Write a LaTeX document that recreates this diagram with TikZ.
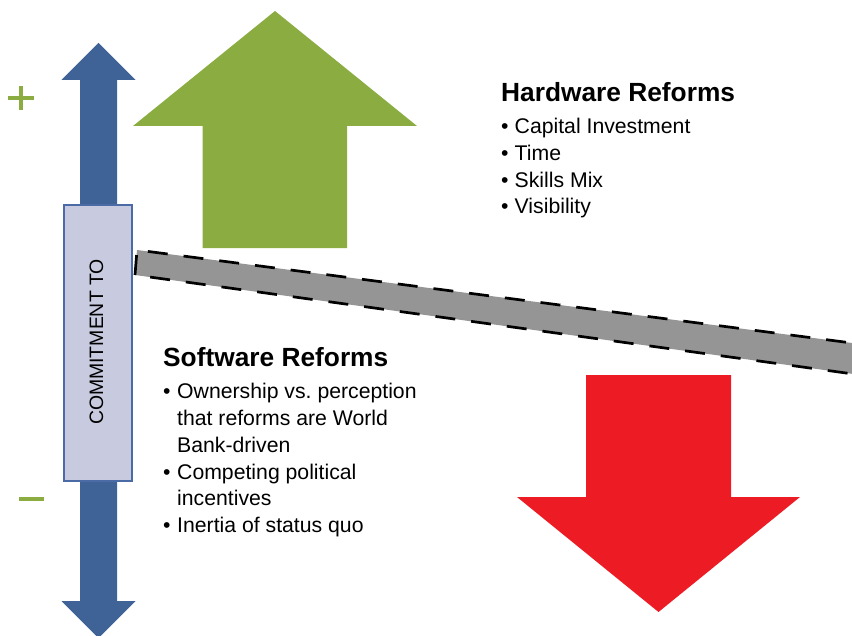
\documentclass[tikz,border=0pt]{standalone}
\usepackage{fontspec}
\setmainfont{Liberation Sans}
\definecolor{cblue}{HTML}{3F6297}
\definecolor{cgreen}{HTML}{8AAC41}
\definecolor{cred}{HTML}{ED1C24}
\definecolor{cgray}{HTML}{959595}
\definecolor{cboxfill}{HTML}{C8CADF}
\definecolor{cboxline}{HTML}{4A6BA5}
\tikzset{
  headtxt/.style={font=\fontsize{26.4}{30}\selectfont\bfseries, anchor=base west, inner sep=0pt},
  itemtxt/.style={font=\fontsize{21.3}{26}\selectfont, anchor=base west, inner sep=0pt},
  signline/.style={draw=cgreen, line width=3.5bp},
}
\begin{document}
\begin{tikzpicture}[x=1bp,y=-1bp]
\useasboundingbox (0,0) rectangle (852,636);
\begin{scope}
\clip (0,0) rectangle (852,636);
% blue double arrow
\fill[cblue] (98.5,43) -- (135.5,80) -- (117,80) -- (117,601) -- (135.5,601) -- (98.5,638)
  -- (61.5,601) -- (80,601) -- (80,80) -- (61.5,80) -- cycle;
% green up arrow
\fill[cgreen] (275,11) -- (417,126) -- (347,126) -- (347,248) -- (202.5,248) -- (202.5,126) -- (133,126) -- cycle;
% red down arrow
\fill[cred] (658.5,612) -- (800,497) -- (731,497) -- (731,375) -- (586,375) -- (586,497) -- (517,497) -- cycle;
% gray bar
\draw[fill=cgray, line width=2.7bp, dash pattern=on 20bp off 16bp, line join=miter]
  (135,275) -- (137,250) -- (875,346) -- (875,377) -- cycle;
\end{scope}
% commitment box
\node[draw=cboxline, fill=cboxfill, line width=2bp, minimum width=68bp, minimum height=275bp, inner sep=0pt] (box) at (98,343) {};
\node[rotate=90, inner sep=0pt, font=\fontsize{19.5}{22}\selectfont] (lbl) at (96.5,342) {COMMITMENT TO};
% plus and minus
\coordinate (pc) at (21,98);
\draw[signline] ([xshift=-12.5bp]pc) -- ([xshift=12.5bp]pc);
\draw[signline] ([yshift=-12bp]pc) -- ([yshift=12bp]pc);
\coordinate (mc) at (31.5,499);
\draw[draw=cgreen, line width=4bp] ([xshift=-12.5bp]mc) -- ([xshift=12.5bp]mc);
% hardware text
\node[headtxt] (hw) at (501,102) {Hardware Reforms};
\node[itemtxt] (hb1) at (501,134) {•};
\node[itemtxt] (h1) at (514.5,134) {Capital Investment};
\node[itemtxt] (hb2) at (501,160.7) {•};
\node[itemtxt] (h2) at (514.5,160.7) {Time};
\node[itemtxt] (hb3) at (501,187.4) {•};
\node[itemtxt] (h3) at (514.5,187.4) {Skills Mix};
\node[itemtxt] (hb4) at (501,214) {•};
\node[itemtxt] (h4) at (514.5,214) {Visibility};
% software text
\node[headtxt] (sw) at (163,366) {Software Reforms};
\node[itemtxt] (sb1) at (163,398) {•};
\node[itemtxt] (s1) at (177,398) {Ownership vs.\ perception};
\node[itemtxt] (s1b) at (177,425) {that reforms are World};
\node[itemtxt] (s1c) at (177,452) {Bank-driven};
\node[itemtxt] (sb2) at (163,479) {•};
\node[itemtxt] (s2) at (177,479) {Competing political};
\node[itemtxt] (s2b) at (177,505.5) {incentives};
\node[itemtxt] (sb3) at (163,532) {•};
\node[itemtxt] (s3) at (177,532) {Inertia of status quo};
\end{tikzpicture}
\end{document}
